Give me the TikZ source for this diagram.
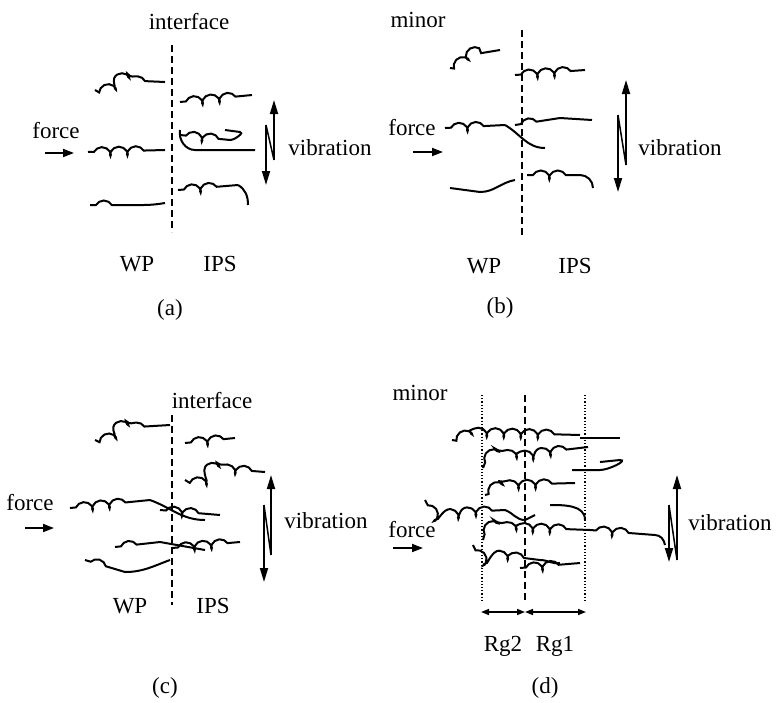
\documentclass[tikz,border=0pt]{standalone}
\usepackage{fontspec}
\setmainfont{Liberation Serif}
\usetikzlibrary{decorations.pathmorphing,arrows.meta}
\begin{document}
\begin{tikzpicture}[x=1pt,y=-1pt,
 lbl/.style={font=\fontsize{23}{25}\selectfont,inner sep=0pt},
 iface/.style={line width=1.5pt,dash pattern=on 7pt off 4pt},
 dot/.style={line width=1.2pt,dotted},
 chain/.style={line width=2pt,decorate,decoration={coil,amplitude=4.5pt,segment length=17pt,aspect=0.8,pre length=6pt,post length=10pt}},
 plain/.style={line width=2pt},
 farr/.style={line width=1.8pt,-{Triangle[length=11pt,width=8pt]}},
 varr/.style={line width=1.8pt,-{Triangle[length=14pt,width=8pt]}},
 rg/.style={line width=1.5pt,{Triangle[length=8pt,width=6pt]}-{Triangle[length=8pt,width=6pt]}}]
\useasboundingbox (0,0) rectangle (779,702);
% ---------- (a)
\node[lbl] (ia) at (189,22) {interface};
\coordinate (a1) at (172,45); \coordinate (a2) at (172,232);
\draw[iface] (a1) -- (a2);
\node[lbl] (wpa) at (137,264) {WP};
\node[lbl] (ipsa) at (220,264) {IPS};
\node[lbl] (capa) at (170,310) {(a)};
\node[lbl] (fa) at (56,131) {force};
\coordinate (fa1) at (45,153); \coordinate (fa2) at (74,153);
\draw[farr] (fa1) -- (fa2);
\coordinate (va1) at (274,160); \coordinate (va2) at (274,100);
\coordinate (va3) at (266,125); \coordinate (va4) at (266,185);
\draw[varr] (va1) -- (va2); \draw[varr] (va3) -- (va4); \draw[line width=1.5pt] (va3) -- (va1);
\node[lbl] (vba) at (330,148) {vibration};
\draw[chain] (95,90) to[out=-80,in=180] (120,80) -- (165,82);
\draw[chain] (88,152) -- (165,150);
\draw[chain] (90,205) -- (128,205); \draw[plain] (128,205) to[out=0,in=190] (165,203);
\draw[chain] (180,102) -- (252,95);
\draw[chain] (180,135) -- (230,140); \draw[plain] (230,140) to[out=0,in=0] (240,132) -- (225,130);
\draw[plain] (180,130) to[out=-100,in=180] (195,150) -- (255,150);
\draw[chain] (178,190) -- (238,185); \draw[plain] (238,185) to[out=-30,in=90] (248,205);
% ---------- (b)
\node[lbl] (mb) at (418,20) {minor};
\coordinate (b1) at (522,30); \coordinate (b2) at (522,235);
\draw[iface] (b1) -- (b2);
\node[lbl] (wpb) at (484,266) {WP};
\node[lbl] (ipsb) at (575,266) {IPS};
\node[lbl] (capb) at (500,308) {(b)};
\node[lbl] (fb) at (412,128) {force};
\coordinate (fb1) at (413,152); \coordinate (fb2) at (443,152);
\draw[farr] (fb1) -- (fb2);
\coordinate (vb1) at (626,165); \coordinate (vb2) at (626,80);
\coordinate (vb3) at (618,115); \coordinate (vb4) at (618,192);
\draw[varr] (vb1) -- (vb2); \draw[varr] (vb3) -- (vb4); \draw[line width=1.5pt] (vb3) -- (vb1);
\node[lbl] (vbb) at (680,148) {vibration};
\draw[chain] (450,68) to[out=-80,in=180] (470,55) -- (500,50);
\draw[chain] (445,128) -- (505,125); \draw[plain] (505,125) to[out=-30,in=180] (545,148);
\draw[chain] (450,188) -- (480,192); \draw[plain] (480,192) to[out=0,in=190] (515,180);
\draw[chain] (515,75) -- (585,70);
\draw[chain] (515,125) -- (560,118); \draw[plain] (560,118) -- (592,120);
\draw[chain] (527,175) -- (580,175); \draw[plain] (580,175) to[out=0,in=90] (593,188);
% ---------- (c)
\node[lbl] (ic) at (212,401) {interface};
\coordinate (c1) at (172,415); \coordinate (c2) at (172,605);
\draw[iface] (c1) -- (c2);
\node[lbl] (wpc) at (130,606) {WP};
\node[lbl] (ipsc) at (213,606) {IPS};
\node[lbl] (capc) at (165,688) {(c)};
\node[lbl] (fc) at (30,503) {force};
\coordinate (fc1) at (25,528); \coordinate (fc2) at (54,528);
\draw[farr] (fc1) -- (fc2);
\coordinate (vc1) at (271,555); \coordinate (vc2) at (271,475);
\coordinate (vc3) at (264,505); \coordinate (vc4) at (264,582);
\draw[varr] (vc1) -- (vc2); \draw[varr] (vc3) -- (vc4); \draw[line width=1.5pt] (vc3) -- (vc1);
\node[lbl] (vbc) at (326,521) {vibration};
\draw[chain] (95,440) to[out=-70,in=180] (120,428) -- (170,425);
\draw[chain] (185,443) -- (235,438);
\draw[chain] (185,480) to[out=-60,in=180] (215,468) -- (265,472);
\draw[chain] (70,508) -- (150,500); \draw[plain] (150,500) to[out=-20,in=180] (205,520);
\draw[chain] (160,510) -- (220,515);
\draw[chain] (115,547) -- (160,542); \draw[plain] (160,542) -- (205,550);
\draw[chain] (172,548) -- (240,542);
\draw[chain] (85,560) -- (125,572); \draw[plain] (125,572) to[out=0,in=200] (170,560);
% ---------- (d)
\node[lbl] (md) at (420,393) {minor};
\coordinate (d1) at (525,395); \coordinate (d2) at (525,600);
\coordinate (dl1) at (482,395); \coordinate (dl2) at (482,600);
\coordinate (dr1) at (585,395); \coordinate (dr2) at (585,600);
\draw[iface] (d1) -- (d2); \draw[dot] (dl1) -- (dl2); \draw[dot] (dr1) -- (dr2);
\coordinate (r1) at (481,612); \coordinate (r2) at (525,612); \coordinate (r3) at (586,612);
\draw[rg] (r1) -- (r2); \draw[rg] (r2) -- (r3);
\node[lbl] (rg2) at (503,646) {Rg2};
\node[lbl] (rg1) at (555,646) {Rg1};
\node[lbl] (capd) at (545,688) {(d)};
\node[lbl] (fd) at (412,530) {force};
\coordinate (fd1) at (393,548); \coordinate (fd2) at (423,548);
\draw[farr] (fd1) -- (fd2);
\coordinate (vd1) at (677,560); \coordinate (vd2) at (677,475);
\coordinate (vd3) at (669,505); \coordinate (vd4) at (669,562);
\draw[varr] (vd1) -- (vd2); \draw[varr] (vd3) -- (vd4); \draw[line width=1.5pt] (vd3) -- (vd1);
\node[lbl] (vbd) at (730,523) {vibration};
\draw[chain] (452,440) to[out=-80,in=180] (470,432) -- (580,435);
\draw[plain] (580,438) -- (620,438);
\draw[chain] (483,468) to[out=80,in=180] (520,455) -- (588,447);
\draw[plain] (572,470) -- (600,470) to[out=0,in=0] (620,460) -- (600,462);
\draw[chain] (485,495) to[out=-90,in=180] (500,485) -- (575,483);
\draw[chain] (425,500) to[out=-70,in=180] (445,513) -- (505,510);
\draw[plain] (505,510) to[out=-20,in=180] (525,520) -- (535,515);
\draw[plain] (550,505) to[out=0,in=90] (585,520);
\draw[chain] (483,540) to[out=90,in=180] (510,527) -- (590,530);
\draw[chain] (590,530) -- (655,535); \draw[plain] (655,535) to[out=0,in=100] (665,545);
\draw[chain] (473,545) to[out=-80,in=180] (500,555) -- (540,560);
\draw[plain] (540,560) to[out=0,in=190] (560,563);
\draw[chain] (520,568) -- (580,563);
\end{tikzpicture}
\end{document}
